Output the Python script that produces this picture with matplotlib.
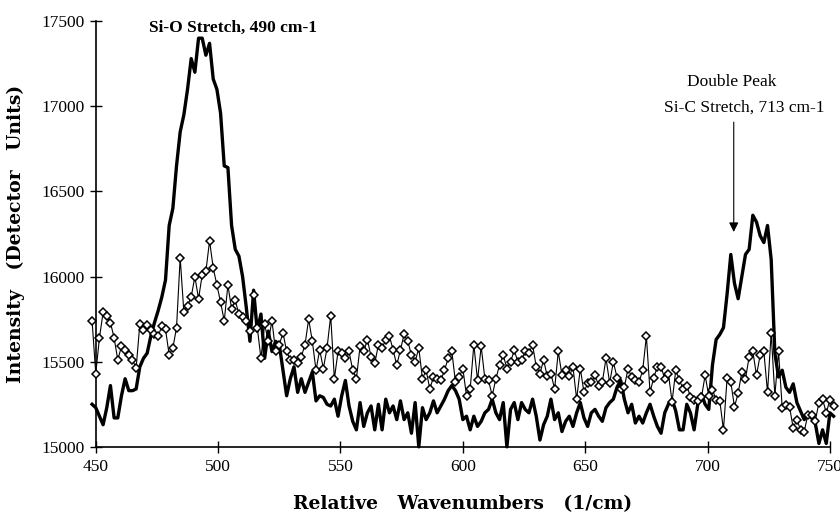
import numpy as np
import matplotlib
matplotlib.use("Agg")
import matplotlib.pyplot as plt

# wavenumber grid (1/cm), one reading every 1.5 cm-1
wavenumbers = np.arange(448.5, 751.6, 1.5)

# thick trace
thick = [
    15250,
    15230, 15180, 15130, 15230, 15360, 15170, 15170, 15300, 15400, 15330,
    15330, 15340, 15470, 15520, 15550, 15650, 15730, 15800, 15880, 15980,
    16300, 16400, 16650, 16850, 16950, 17100, 17280, 17200, 17400, 17400,
    17300, 17370, 17160, 17100, 16960, 16650, 16640, 16300, 16160, 16120,
    16000, 15820, 15620, 15920, 15680, 15780, 15520, 15680, 15560, 15620,
    15600, 15450, 15300, 15400, 15470, 15320, 15400, 15320, 15380, 15440,
    15270, 15300, 15290, 15250, 15240, 15280, 15180, 15300, 15390, 15240,
    15150, 15100, 15260, 15120, 15200, 15240, 15100, 15250, 15100, 15280,
    15200, 15240, 15160, 15270, 15160, 15200, 15080, 15260, 15000, 15230,
    15160, 15200, 15270, 15200, 15240, 15280, 15330, 15360, 15330, 15280,
    15160, 15180, 15100, 15180, 15120, 15150, 15200, 15220, 15280, 15200,
    15160, 15260, 15000, 15220, 15260, 15160, 15260, 15220, 15200, 15280,
    15180, 15040, 15130, 15180, 15280, 15160, 15200, 15090, 15150, 15180,
    15120, 15200, 15260, 15170, 15120, 15200, 15220, 15180, 15150, 15230,
    15260, 15280, 15350, 15390, 15280, 15200, 15250, 15140, 15180, 15140,
    15200, 15250, 15180, 15120, 15080, 15200, 15250, 15280, 15210, 15100,
    15100, 15250, 15200, 15100, 15250, 15310, 15250, 15220, 15480, 15630,
    15660, 15700, 15900, 16130, 15960, 15870, 16000, 16130, 16160, 16360,
    16320, 16240, 16200, 16300, 16100, 15550, 15410, 15450, 15350, 15320,
    15370, 15260, 15210, 15160, 15190, 15170, 15140, 15020, 15100, 15020,
    15200, 15180,
]

# thin trace with open diamonds
diamond = [
    15740,
    15430, 15640, 15790, 15770, 15730, 15640, 15510, 15590, 15566, 15540,
    15510, 15463, 15720, 15686, 15716, 15686, 15660, 15650, 15710, 15690,
    15540, 15580, 15700, 16110, 15790, 15830, 15880, 16000, 15870, 16010,
    16030, 16210, 16050, 15950, 15850, 15740, 15950, 15810, 15860, 15780,
    15760, 15740, 15680, 15890, 15700, 15520, 15720, 15620, 15740, 15560,
    15600, 15670, 15560, 15510, 15510, 15490, 15530, 15600, 15750, 15620,
    15450, 15570, 15460, 15580, 15770, 15400, 15560, 15550, 15520, 15560,
    15450, 15400, 15590, 15560, 15630, 15530, 15490, 15600, 15580, 15630,
    15650, 15570, 15480, 15570, 15660, 15620, 15540, 15500, 15580, 15400,
    15450, 15340, 15410, 15400, 15390, 15450, 15520, 15560, 15380, 15410,
    15460, 15300, 15340, 15600, 15390, 15590, 15400, 15390, 15300, 15400,
    15480, 15540, 15460, 15500, 15566, 15500, 15510, 15560, 15550, 15600,
    15470, 15430, 15510, 15414, 15430, 15340, 15560, 15420, 15450, 15414,
    15470, 15280, 15460, 15320, 15375, 15380, 15420, 15360, 15380, 15520,
    15375, 15500, 15407, 15340, 15350, 15460, 15410, 15390, 15380, 15450,
    15650, 15320, 15407, 15470, 15470, 15400, 15430, 15265, 15450, 15393,
    15340, 15360, 15295, 15276, 15270, 15290, 15420, 15300, 15335, 15276,
    15270, 15100, 15407, 15380, 15235, 15315, 15440, 15400, 15530, 15560,
    15420, 15540, 15560, 15320, 15670, 15300, 15560, 15230, 15245, 15235,
    15110, 15160, 15100, 15090, 15190, 15190, 15150, 15260, 15280, 15200,
    15276, 15240,
]

x_ticks = [450, 500, 550, 600, 650, 700, 750]
y_ticks = [15000, 15500, 16000, 16500, 17000, 17500]

plt.rcParams["font.family"] = ["Liberation Serif", "DejaVu Serif"]
label_font = ["DejaVu Serif", "Liberation Serif"]

fig = plt.figure(figsize=(8.4, 5.16), dpi=100)
ax = fig.add_axes([0.114, 0.134, 0.874, 0.825])

ax.plot(wavenumbers, diamond, color="black", lw=0.8, marker="D", ms=4.5,
        mfc="white", mec="black", mew=1.1, clip_on=False, zorder=3)
ax.plot(wavenumbers, thick, color="black", lw=2.4, clip_on=False, zorder=2)

ax.set_xlim(450, 750)
ax.set_ylim(15000, 17500)
ax.set_xticks(x_ticks)
ax.set_yticks(y_ticks)
ax.tick_params(direction="inout", length=8, width=1, labelsize=12.5)
ax.tick_params(axis="y", pad=4)
ax.tick_params(axis="x", pad=5)

for side in ["top", "right"]:
    ax.spines[side].set_visible(False)
ax.spines["left"].set_linewidth(1.2)
ax.spines["bottom"].set_linewidth(1.2)

ax.set_xlabel("Relative   Wavenumbers   (1/cm)", fontsize=13.5, fontweight="bold",
              family=label_font, labelpad=14)
ax.set_ylabel("Intensity   (Detector   Units)", fontsize=13.5, fontweight="bold",
              family=label_font, labelpad=12)

ax.text(506, 17460, "Si-O Stretch, 490 cm-1", fontsize=12.5, fontweight="bold",
        ha="center", va="center")
ax.text(710, 17142, "Double Peak", fontsize=12.5, ha="center", va="center")
ax.text(715, 16995, "Si-C Stretch, 713 cm-1", fontsize=12.5, ha="center", va="center")
ax.annotate("", xy=(710.7, 16262), xytext=(710.7, 16907),
            arrowprops=dict(arrowstyle="-|>", color="black", lw=0.8,
                            mutation_scale=14, shrinkA=0, shrinkB=0))

fig.savefig("out.png", dpi=100)
